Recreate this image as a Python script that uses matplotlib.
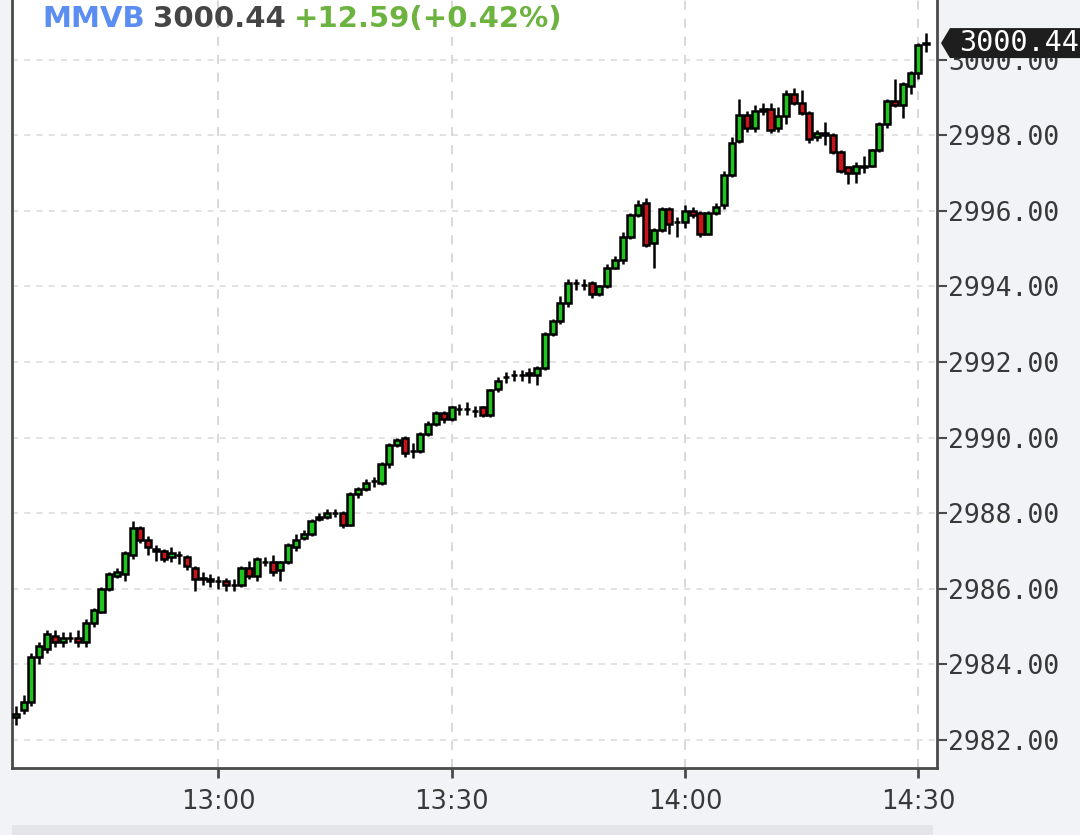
import matplotlib
matplotlib.use("Agg")
import matplotlib.pyplot as plt
from matplotlib.patches import Polygon, Rectangle
from matplotlib.ticker import FuncFormatter, FixedLocator
import numpy as np

# one-minute candles, 12:34 .. 14:31
start_minute = 12 * 60 + 34

opens = [
    2982.6, 2982.8, 2983.0, 2984.2, 2984.4, 2984.75, 2984.6, 2984.7, 2984.7, 2984.6,
    2985.1, 2985.4, 2986.0, 2986.35, 2986.4, 2986.9, 2987.6, 2987.3, 2987.05, 2987.0,
    2986.85, 2986.9, 2986.85, 2986.55, 2986.3, 2986.25, 2986.2, 2986.2, 2986.1, 2986.1,
    2986.55, 2986.35, 2986.7, 2986.7, 2986.5, 2986.7, 2987.1, 2987.35, 2987.45, 2987.85,
    2987.9, 2988.0, 2988.0, 2987.7, 2988.5, 2988.65, 2988.85, 2988.8, 2989.3, 2989.8,
    2990.0, 2989.65, 2989.65, 2990.1, 2990.35, 2990.65, 2990.5, 2990.75, 2990.75, 2990.7,
    2990.8, 2990.6, 2991.3, 2991.6, 2991.65, 2991.65, 2991.65, 2991.65, 2991.85, 2992.75,
    2993.1, 2993.55, 2994.1, 2994.05, 2994.1, 2993.8, 2994.0, 2994.5, 2994.7, 2995.3,
    2995.9, 2996.2, 2995.15, 2995.5, 2996.05, 2995.7, 2995.7, 2996.0, 2995.95, 2995.4,
    2995.95, 2996.15, 2996.95, 2997.85, 2998.55, 2998.2, 2998.65, 2998.7, 2998.2, 2998.5,
    2999.1, 2998.85, 2998.6, 2997.95, 2998.05, 2998.0, 2997.55, 2997.15, 2997.0, 2997.15,
    2997.2, 2997.6, 2998.3, 2998.9, 2998.8, 2999.3, 2999.65, 3000.42,
]
closes = [
    2982.7, 2983.0, 2984.2, 2984.5, 2984.8, 2984.6, 2984.7, 2984.7, 2984.6, 2985.1,
    2985.45, 2986.0, 2986.4, 2986.45, 2986.95, 2987.6, 2987.3, 2987.1, 2987.0, 2986.8,
    2986.95, 2986.9, 2986.6, 2986.25, 2986.25, 2986.2, 2986.2, 2986.1, 2986.1, 2986.55,
    2986.35, 2986.8, 2986.7, 2986.45, 2986.7, 2987.15, 2987.3, 2987.45, 2987.8, 2987.9,
    2988.0, 2988.0, 2987.7, 2988.5, 2988.65, 2988.8, 2988.85, 2989.3, 2989.8, 2989.95,
    2989.6, 2989.65, 2990.1, 2990.35, 2990.65, 2990.5, 2990.8, 2990.75, 2990.75, 2990.7,
    2990.6, 2991.25, 2991.5, 2991.6, 2991.65, 2991.65, 2991.7, 2991.85, 2992.75, 2993.1,
    2993.55, 2994.1, 2994.1, 2994.05, 2993.8, 2994.0, 2994.5, 2994.7, 2995.3, 2995.9,
    2996.15, 2995.1, 2995.5, 2996.05, 2995.65, 2995.7, 2996.0, 2995.9, 2995.4, 2995.95,
    2996.1, 2996.95, 2997.8, 2998.55, 2998.2, 2998.65, 2998.7, 2998.15, 2998.5, 2999.1,
    2998.85, 2998.6, 2997.9, 2998.05, 2998.0, 2997.55, 2997.05, 2997.0, 2997.2, 2997.2,
    2997.6, 2998.3, 2998.9, 2998.8, 2999.35, 2999.65, 3000.4, 3000.44,
]
highs = [
    2982.9, 2983.2, 2984.3, 2984.6, 2984.9, 2984.9, 2984.85, 2984.85, 2984.9, 2985.2,
    2985.5, 2986.05, 2986.45, 2986.55, 2987.0, 2987.8, 2987.65, 2987.4, 2987.15, 2987.05,
    2987.1, 2987.0, 2986.9, 2986.6, 2986.45, 2986.4, 2986.35, 2986.3, 2986.25, 2986.6,
    2986.75, 2986.85, 2986.85, 2986.9, 2986.75, 2987.2, 2987.45, 2987.55, 2987.85, 2988.0,
    2988.1, 2988.1, 2988.05, 2988.55, 2988.7, 2988.9, 2988.95, 2989.35, 2989.85, 2990.0,
    2990.05, 2989.85, 2990.15, 2990.45, 2990.7, 2990.7, 2990.85, 2990.9, 2990.95, 2990.85,
    2990.85, 2991.3, 2991.6, 2991.75, 2991.8, 2991.8, 2991.85, 2991.9, 2992.8, 2993.15,
    2993.75, 2994.2, 2994.2, 2994.2, 2994.15, 2994.05, 2994.6, 2994.8, 2995.45, 2995.95,
    2996.3, 2996.35, 2995.55, 2996.1, 2996.1, 2995.85, 2996.15, 2996.1, 2996.0, 2996.0,
    2996.2, 2997.05, 2997.95, 2998.95, 2998.65, 2998.8, 2998.85, 2998.85, 2998.75, 2999.2,
    2999.25, 2999.2, 2998.65, 2998.15, 2998.35, 2998.05, 2997.6, 2997.2, 2997.3, 2997.45,
    2997.65, 2998.35, 2998.95, 2999.5, 2999.4, 2999.7, 3000.45, 3000.7,
]
lows = [
    2982.4, 2982.7, 2982.9, 2984.0, 2984.3, 2984.45, 2984.45, 2984.6, 2984.45, 2984.45,
    2985.0, 2985.35, 2985.95, 2986.3, 2986.2, 2986.8, 2987.2, 2986.9, 2986.75, 2986.7,
    2986.7, 2986.65, 2986.5, 2985.95, 2986.1, 2986.05, 2986.0, 2985.95, 2985.95, 2986.05,
    2986.25, 2986.2, 2986.6, 2986.35, 2986.2, 2986.65, 2987.0, 2987.3, 2987.4, 2987.8,
    2987.85, 2987.9, 2987.6, 2987.65, 2988.4, 2988.6, 2988.7, 2988.75, 2989.2, 2989.75,
    2989.5, 2989.45, 2989.6, 2990.05, 2990.3, 2990.4, 2990.45, 2990.6, 2990.6, 2990.55,
    2990.55, 2990.55, 2991.2, 2991.45, 2991.5, 2991.5, 2991.45, 2991.4, 2991.8, 2992.7,
    2993.0, 2993.45, 2993.9, 2993.9, 2993.7, 2993.75, 2993.95, 2994.45, 2994.6, 2995.25,
    2995.85, 2995.05, 2994.5, 2995.45, 2995.4, 2995.3, 2995.55, 2995.8, 2995.3, 2995.35,
    2995.9, 2996.05, 2996.9, 2997.8, 2998.1, 2998.1, 2998.55, 2998.05, 2998.1, 2998.3,
    2998.8, 2998.55, 2997.8, 2997.85, 2997.75, 2997.5, 2997.0, 2996.7, 2996.75, 2997.0,
    2997.15, 2997.55, 2998.2, 2998.75, 2998.45, 2999.1, 2999.5, 3000.2,
]

symbol = "MMVB"
change = "+12.59(+0.42%)"
y_ticks = np.arange(2982, 3001, 2)
x_ticks = [13 * 60, 13 * 60 + 30, 14 * 60, 14 * 60 + 30]

BG = "#f1f3f6"
GREEN = "#1fc41f"
RED = "#c8141a"
AXIS = "#4a4a4a"
TEXT = "#383838"

W, H = 1080, 835
fig = plt.figure(figsize=(W / 100, H / 100), dpi=100, facecolor=BG)
ax = fig.add_axes([12 / W, (H - 768) / H, (937 - 12) / W, 768 / H])
ax.set_facecolor("white")

minutes = start_minute + np.arange(len(closes))
o, c = np.array(opens), np.array(closes)
colors = np.where(c >= o, GREEN, RED)

ax.vlines(minutes, lows, highs, color="black", linewidth=1.8, zorder=3)
ax.bar(minutes, c - o, bottom=o, width=0.78, color=colors,
       edgecolor="black", linewidth=1.8, zorder=4)

ax.set_xlim(753.5, 872.4)
ax.set_ylim(2981.26, 3001.58)

ax.xaxis.set_major_locator(FixedLocator(x_ticks))
ax.xaxis.set_major_formatter(FuncFormatter(lambda v, _: f"{int(v) // 60}:{int(v) % 60:02d}"))
ax.yaxis.set_major_locator(FixedLocator(y_ticks))
ax.yaxis.set_major_formatter(FuncFormatter(lambda v, _: f"{v:.2f}"))
ax.yaxis.tick_right()

ax.grid(True, axis="y", color="#dadada", linewidth=1.1, linestyle=(0, (4, 4)))
ax.grid(True, axis="x", color="#d6d6d6", linewidth=1.3, linestyle=(0, (5, 5)))
ax.set_axisbelow(True)

for side in ("left", "bottom", "right"):
    ax.spines[side].set_color(AXIS)
    ax.spines[side].set_linewidth(2)
ax.spines["top"].set_visible(False)

ax.tick_params(axis="x", direction="out", length=7, width=2, color=AXIS,
               labelcolor=TEXT, labelsize=18.5, pad=8)
ax.tick_params(axis="y", direction="out", length=7, width=1.5, color=AXIS,
               labelcolor=TEXT, labelsize=19, pad=1)
for lbl in ax.get_yticklabels():
    lbl.set_fontfamily("DejaVu Sans Mono")

# title made of three coloured pieces
t1 = ax.text(30 / 925, 1 - 33 / 768, symbol, transform=ax.transAxes,
             color="#5b8ef0", fontsize=21, fontweight="bold", va="bottom")
t2 = ax.annotate(f"{closes[-1]:.2f}", xy=(1, 0), xycoords=t1, xytext=(6, 0),
                 textcoords="offset points", color="#454545", fontsize=21,
                 fontweight="bold", va="bottom")
ax.annotate(change, xy=(1, 0), xycoords=t2, xytext=(6, 0),
            textcoords="offset points", color="#6cb33f", fontsize=21,
            fontweight="bold", va="bottom")

# last price marker on the right axis
y_px = ax.transData.transform((minutes[-1], closes[-1]))[1]
yf = y_px / H
hh = 15 / H
marker = Polygon([(941 / W, yf), (950 / W, yf + hh), (1.0, yf + hh),
                  (1.0, yf - hh), (950 / W, yf - hh)],
                 closed=True, transform=fig.transFigure, facecolor="#1e1e1e",
                 edgecolor="none", zorder=10)
fig.patches.append(marker)
fig.text(1079 / W, yf, f"{closes[-1]:.2f}", color="white", fontsize=20.5,
         family="DejaVu Sans Mono", ha="right", va="center", zorder=11)

# scrollbar strip at the bottom
fig.patches.append(Rectangle((12 / W, 0), (933 - 12) / W, 10 / H,
                             transform=fig.transFigure, facecolor="#e3e5e9",
                             edgecolor="none"))

fig.savefig("out.png", dpi=100, facecolor=BG)
